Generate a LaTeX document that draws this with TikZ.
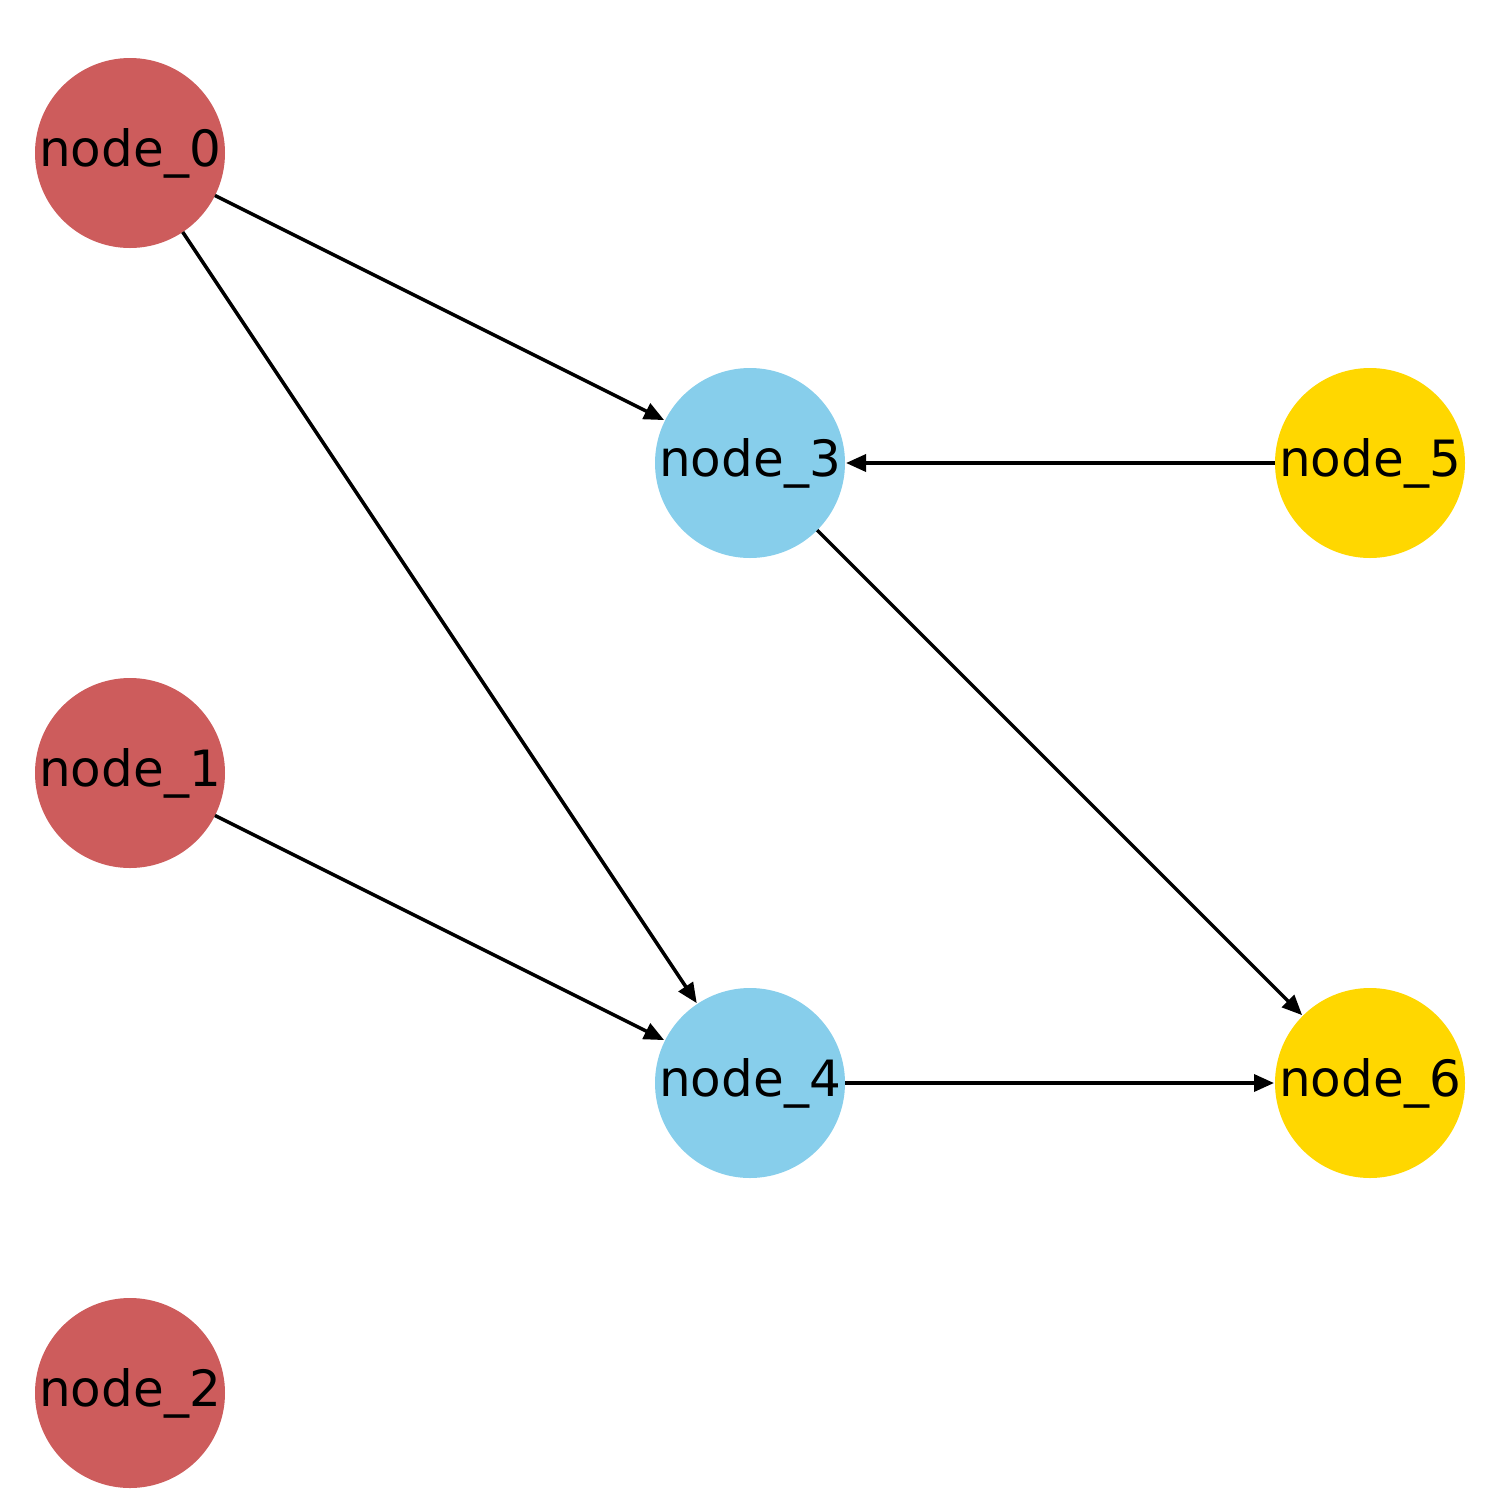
\documentclass[tikz,border=0pt]{standalone}
\usepackage{fontspec}
\setmainfont{DejaVu Sans}
\usetikzlibrary{arrows.meta}
\definecolor{nred}{RGB}{205,92,92}
\definecolor{nblue}{RGB}{135,206,235}
\definecolor{ngold}{RGB}{255,215,0}
\begin{document}
\begin{tikzpicture}[x=1pt,y=-1pt,
  nd/.style={circle,minimum size=190pt,inner sep=0pt,outer sep=0pt,font=\fontsize{50}{58}\selectfont},
  edge/.style={line width=3.5pt,-{Triangle[length=20pt,width=17pt]},shorten >=1pt}]
\useasboundingbox (0,0) rectangle (1500,1500);
\node[nd,fill=nred] (n0) at (130,153) {node\_0};
\node[nd,fill=nred] (n1) at (130,773) {node\_1};
\node[nd,fill=nred] (n2) at (130,1393) {node\_2};
\node[nd,fill=nblue] (n3) at (750,463) {node\_3};
\node[nd,fill=nblue] (n4) at (750,1083) {node\_4};
\node[nd,fill=ngold] (n5) at (1370,463) {node\_5};
\node[nd,fill=ngold] (n6) at (1370,1083) {node\_6};
\draw[edge] (n0) -- (n3);
\draw[edge] (n0) -- (n4);
\draw[edge] (n1) -- (n4);
\draw[edge] (n5) -- (n3);
\draw[edge] (n3) -- (n6);
\draw[edge] (n4) -- (n6);
\end{tikzpicture}
\end{document}
